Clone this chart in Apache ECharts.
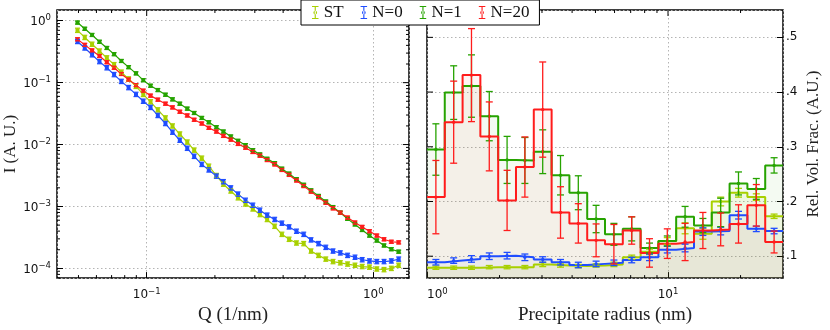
<!DOCTYPE html>
<html><head><meta charset="utf-8">
<script src="https://cdn.jsdelivr.net/npm/echarts@6/dist/echarts.min.js"></script>
<style>html,body{margin:0;padding:0;background:#fff}#c{width:830px;height:330px}</style>
</head><body><div id="c"></div>
<script>
// ---------- data ----------
const seriesNames = ['ST', 'N=0', 'N=1', 'N=20'];
const seriesColors = ['#a8d000', '#1f4dff', '#26a300', '#ff1c1c'];

// Left panel: scattering vector Q (1/nm)
const qValues = [0.0495,0.0533,0.0574,0.0619,0.0667,0.0718,0.0773,0.0832,0.0897,0.0966,
  0.104,0.112,0.121,0.130,0.140,0.151,0.162,0.175,0.188,0.203,0.218,0.235,0.253,0.273,0.294,
  0.316,0.340,0.367,0.395,0.425,0.458,0.493,0.531,0.573,0.617,0.664,0.715,0.770,0.830,0.893,
  0.962,1.036,1.115,1.201,1.294];
// log10 of intensity I (A.U.)
const log10IntensitySt = [-0.155,-0.27,-0.38,-0.49,-0.60,-0.71,-0.83,-0.94,-1.06,-1.19,
  -1.31,-1.44,-1.57,-1.70,-1.83,-1.96,-2.09,-2.22,-2.35,-2.50,-2.64,-2.75,-2.86,-2.96,-3.04,
  -3.13,-3.21,-3.32,-3.45,-3.53,-3.59,-3.60,-3.72,-3.79,-3.85,-3.89,-3.91,-3.93,-3.95,-3.97,
  -3.98,-4.01,-4.02,-4.00,-3.95];
const log10IntensityN0 = [-0.335,-0.44,-0.55,-0.66,-0.76,-0.87,-0.98,-1.08,-1.19,-1.30,
  -1.40,-1.53,-1.66,-1.80,-1.93,-2.06,-2.19,-2.32,-2.41,-2.51,-2.60,-2.70,-2.80,-2.90,-2.98,
  -3.06,-3.14,-3.21,-3.27,-3.33,-3.40,-3.45,-3.54,-3.60,-3.66,-3.72,-3.75,-3.79,-3.82,-3.86,
  -3.88,-3.89,-3.89,-3.88,-3.85];
const log10IntensityN1 = [-0.03,-0.13,-0.23,-0.34,-0.44,-0.54,-0.65,-0.75,-0.85,-0.96,
  -1.05,-1.12,-1.195,-1.27,-1.34,-1.42,-1.49,-1.57,-1.64,-1.72,-1.79,-1.87,-1.94,-2.01,-2.09,
  -2.16,-2.23,-2.30,-2.39,-2.47,-2.56,-2.65,-2.74,-2.83,-2.92,-3.01,-3.10,-3.20,-3.29,-3.38,
  -3.47,-3.55,-3.63,-3.69,-3.73];
const log10IntensityN20 = [-0.30,-0.39,-0.48,-0.57,-0.67,-0.76,-0.86,-0.95,-1.04,-1.13,
  -1.21,-1.275,-1.34,-1.40,-1.47,-1.53,-1.60,-1.66,-1.73,-1.79,-1.86,-1.92,-1.99,-2.05,-2.12,
  -2.18,-2.25,-2.32,-2.41,-2.49,-2.58,-2.67,-2.76,-2.85,-2.94,-3.03,-3.10,-3.18,-3.26,-3.33,
  -3.40,-3.47,-3.53,-3.57,-3.58];
// half error bar in log10 units, per series
const intensityLogErr = [0.035, 0.035, 0.025, 0.025];

// Right panel: precipitate radius bins (nm)
const radiusEdges = [1.000,1.185,1.405,1.665,1.974,2.340,2.774,3.289,3.898,4.621,5.477,
  6.493,7.697,9.124,10.81,12.82,15.19,18.01,21.35,25.31,30.0];
const volFracSt  = [0.079,0.079,0.079,0.080,0.080,0.080,0.085,0.083,0.082,0.083,
  0.085,0.098,0.108,0.128,0.151,0.141,0.200,0.216,0.208,0.173];
const volFracN0  = [0.089,0.092,0.095,0.100,0.101,0.098,0.094,0.089,0.084,0.086,
  0.088,0.093,0.098,0.112,0.115,0.145,0.146,0.175,0.150,0.146];
const volFracN1  = [0.295,0.399,0.411,0.356,0.276,0.275,0.291,0.248,0.216,0.168,
  0.140,0.150,0.115,0.128,0.172,0.156,0.180,0.233,0.223,0.266];
const volFracN20 = [0.208,0.345,0.431,0.319,0.202,0.263,0.368,0.180,0.160,0.129,
  0.122,0.147,0.106,0.123,0.126,0.147,0.149,0.159,0.193,0.126];
const volErrSt  = [0.003,0.003,0.003,0.003,0.003,0.003,0.004,0.003,0.003,0.003,
  0.004,0.004,0.005,0.006,0.010,0.010,0.008,0.008,0.006,0.004];
const volErrN0  = [0.005,0.005,0.006,0.006,0.006,0.006,0.005,0.005,0.005,0.005,
  0.005,0.005,0.006,0.006,0.007,0.007,0.007,0.007,0.005,0.005];
const volErrN1  = [0.047,0.049,0.057,0.045,0.043,0.042,0.040,0.036,0.031,0.025,
  0.020,0.022,0.009,0.009,0.019,0.013,0.026,0.021,0.019,0.014];
const volErrN20 = [0.067,0.075,0.085,0.063,0.055,0.055,0.087,0.047,0.036,0.030,
  0.036,0.025,0.026,0.027,0.034,0.033,0.030,0.035,0.038,0.020];

const minorMultipliers = [2,3,4,5,6,7,8,9];

// ---------- build ----------
const serif = '"Liberation Serif","Times New Roman",serif';
const sans = '"DejaVu Sans",sans-serif';
const leftLogs = [log10IntensitySt, log10IntensityN0, log10IntensityN1, log10IntensityN20];
const volumes = [volFracSt, volFracN0, volFracN1, volFracN20];
const volErrs = [volErrSt, volErrN0, volErrN1, volErrN20];
const binCenters = radiusEdges.slice(0, -1).map((e, i) => Math.sqrt(e * radiusEdges[i + 1]));

function rgba(hex, a) {
  const n = parseInt(hex.slice(1), 16);
  return 'rgba(' + ((n >> 16) & 255) + ',' + ((n >> 8) & 255) + ',' + (n & 255) + ',' + a + ')';
}
const areaAlpha = [0.10, 0.05, 0.07, 0.06];

const supRich = {
  b: {fontFamily: sans, fontSize: 12, color: '#111', lineHeight: 14, verticalAlign: 'bottom'},
  s: {fontFamily: sans, fontSize: 8.5, color: '#111', lineHeight: 8, verticalAlign: 'top'}
};
function sciLabel(v) {
  const l = Math.log10(v), e = Math.round(l);
  if (Math.abs(l - e) > 1e-6) return '';
  return '{b|10}{s|' + (e < 0 ? '\u2212' + (-e) : e) + '}';
}

const series = [];
// right panel error bars (first so legend uses them)
seriesNames.forEach((name, k) => {
  const c = seriesColors[k];
  series.push({
    name, type: 'custom', xAxisIndex: 1, yAxisIndex: 1, z: 5, silent: true,
    itemStyle: {color: c},
    data: volumes[k].map((v, i) => [binCenters[i], v, volErrs[k][i]]),
    renderItem: (params, api) => {
      const x = api.value(0), v = api.value(1), e = api.value(2);
      const t = api.coord([x, v + e]), b = api.coord([x, v - e]), m = api.coord([x, v]);
      const hw = 3.5, st = {stroke: c, lineWidth: 1.3};
      return {type: 'group', children: [
        {type: 'line', shape: {x1: t[0], y1: t[1], x2: b[0], y2: b[1]}, style: st},
        {type: 'line', shape: {x1: t[0] - hw, y1: t[1], x2: t[0] + hw, y2: t[1]}, style: st},
        {type: 'line', shape: {x1: b[0] - hw, y1: b[1], x2: b[0] + hw, y2: b[1]}, style: st},
        {type: 'circle', shape: {cx: m[0], cy: m[1], r: 1.7}, style: {fill: c}}
      ]};
    }
  });
});
// right panel step histograms
seriesNames.forEach((name, k) => {
  const c = seriesColors[k];
  const pts = volumes[k].map((v, i) => [radiusEdges[i], v]);
  pts.push([radiusEdges[radiusEdges.length - 1], volumes[k][volumes[k].length - 1]]);
  series.push({
    name, type: 'line', xAxisIndex: 1, yAxisIndex: 1, z: 3, step: 'end', symbol: 'none', silent: true,
    lineStyle: {color: c, width: 2}, itemStyle: {color: c},
    areaStyle: {color: rgba(c, areaAlpha[k]), origin: 'start'},
    data: pts
  });
});
// left panel lines
seriesNames.forEach((name, k) => {
  const c = seriesColors[k];
  series.push({
    name, type: 'line', xAxisIndex: 0, yAxisIndex: 0, z: 3, symbol: 'rect', symbolSize: 4, silent: true,
    lineStyle: {color: c, width: 1.2}, itemStyle: {color: c},
    data: qValues.map((q, i) => [q, Math.pow(10, leftLogs[k][i])])
  });
  series.push({
    name, type: 'custom', xAxisIndex: 0, yAxisIndex: 0, z: 4, silent: true,
    itemStyle: {color: c},
    data: qValues.map((q, i) => [q, Math.pow(10, leftLogs[k][i])]),
    renderItem: (params, api) => {
      const x = api.value(0), v = api.value(1), f = Math.pow(10, intensityLogErr[k]);
      const t = api.coord([x, v * f]), b = api.coord([x, v / f]);
      const hw = 2.5, st = {stroke: c, lineWidth: 1.2};
      return {type: 'group', children: [
        {type: 'line', shape: {x1: t[0], y1: t[1], x2: b[0], y2: b[1]}, style: st},
        {type: 'line', shape: {x1: t[0] - hw, y1: t[1], x2: t[0] + hw, y2: t[1]}, style: st},
        {type: 'line', shape: {x1: b[0] - hw, y1: b[1], x2: b[0] + hw, y2: b[1]}, style: st}
      ]};
    }
  });
});

// frame ticks (mirror + minor) drawn through the axes' scales
function tickSeries(gi, xRange, yRange, xLog, yLog, yMajors, refPt) {
  return {
    type: 'custom', xAxisIndex: gi, yAxisIndex: gi, z: 6, silent: true, clip: false,
    data: [refPt],
    renderItem: (params, api) => {
      const cs = params.coordSys, ch = [];
      const st = {stroke: '#000', lineWidth: 1};
      const L = cs.x, R = cs.x + cs.width, T = cs.y, B = cs.y + cs.height;
      const inR = (v, r) => v > r[0] * 1.0001 && v < r[1] * 0.9999;
      for (let d = -3; d <= 2; d++) {
        const base = Math.pow(10, d);
        [1].concat(minorMultipliers).forEach(m => {
          const v = m * base; if (!inR(v, xRange)) return;
          const px = api.coord([v, refPt[1]])[0];
          const len = m === 1 ? 6 : 3;
          if (m !== 1) ch.push({type: 'line', shape: {x1: px, y1: B, x2: px, y2: B - len}, style: st});
          ch.push({type: 'line', shape: {x1: px, y1: T, x2: px, y2: T + len}, style: st});
        });
      }
      if (yLog) {
        for (let d = -5; d <= 1; d++) {
          const base = Math.pow(10, d);
          [1].concat(minorMultipliers).forEach(m => {
            const v = m * base; if (!inR(v, yRange)) return;
            const py = api.coord([refPt[0], v])[1];
            const len = m === 1 ? 6 : 3;
            if (m !== 1) ch.push({type: 'line', shape: {x1: L, y1: py, x2: L + len, y2: py}, style: st});
            ch.push({type: 'line', shape: {x1: R, y1: py, x2: R - len, y2: py}, style: st});
          });
        }
      } else {
        yMajors.forEach(v => {
          const py = api.coord([refPt[0], v])[1];
          ch.push({type: 'line', shape: {x1: L, y1: py, x2: L + 6, y2: py}, style: st});
        });
      }
      return {type: 'group', children: ch};
    }
  };
}
const leftX = [0.0402, 1.437], leftY = [6.97e-5, 1.49];
const rightX = [1, 30], rightY = [0.06, 0.55];
const rightYTicks = [0.1, 0.2, 0.3, 0.4, 0.5];
series.push(tickSeries(0, leftX, leftY, true, true, null, [0.1, 0.01]));
series.push(tickSeries(1, rightX, rightY, true, false, rightYTicks, [3, 0.2]));

const axisTick = {show: true, inside: true, length: 6, lineStyle: {color: '#000', width: 1}};
const splitLine = {show: true, lineStyle: {type: [1.5, 2.5], color: '#b4b4b4', width: 1}};
const nameStyle = {fontFamily: serif, color: '#222'};

const option = {
  animation: false,
  backgroundColor: '#fff',
  grid: [
    {left: 57, top: 10, width: 352, height: 276, show: true, borderColor: '#000', borderWidth: 1.5, backgroundColor: 'transparent'},
    {left: 427, top: 10, width: 356, height: 277, show: true, borderColor: '#000', borderWidth: 1.5, backgroundColor: 'transparent'}
  ],
  xAxis: [
    {gridIndex: 0, type: 'log', min: leftX[0], max: leftX[1], axisLine: {show: false}, axisTick, splitLine,
     axisLabel: {formatter: sciLabel, rich: supRich, margin: 9, showMinLabel: false, showMaxLabel: false},
     name: 'Q (1/nm)', nameLocation: 'middle', nameGap: 21, nameTextStyle: Object.assign({fontSize: 19}, nameStyle)},
    {gridIndex: 1, type: 'log', min: rightX[0], max: rightX[1], axisLine: {show: false}, axisTick, splitLine,
     axisLabel: {formatter: sciLabel, rich: supRich, margin: 9, showMinLabel: true, showMaxLabel: false, alignMinLabel: 'left'},
     name: 'Precipitate radius (nm)', nameLocation: 'middle', nameGap: 21, nameTextStyle: Object.assign({fontSize: 19}, nameStyle)}
  ],
  yAxis: [
    {gridIndex: 0, type: 'log', min: leftY[0], max: leftY[1], position: 'left', axisLine: {show: false}, axisTick, splitLine,
     axisLabel: {formatter: sciLabel, rich: supRich, margin: 6, showMinLabel: false, showMaxLabel: false},
     name: 'I (A. U.)', nameLocation: 'middle', nameRotate: 90, nameGap: 36, nameTextStyle: Object.assign({fontSize: 17}, nameStyle)},
    {gridIndex: 1, type: 'value', min: rightY[0], max: rightY[1], position: 'right', axisLine: {show: false}, axisTick, splitLine,
     axisLabel: {fontFamily: sans, fontSize: 12, color: '#111', margin: 3, showMinLabel: false, showMaxLabel: false,
       formatter: v => { const t = Math.round(v * 10); return Math.abs(v * 10 - t) < 1e-6 ? '.' + t : ''; }},
     name: 'Rel. Vol. Frac. (A.U.)', nameLocation: 'middle', nameRotate: 90, nameGap: 22, nameTextStyle: Object.assign({fontSize: 17}, nameStyle)}
  ],
  legend: {
    data: seriesNames.map(n => ({name: n, icon: 'path://M0 0h7v1.2h-7z M2.9 0h1.2v14h-1.2z M0 12.8h7v1.2h-7z M1.5 7a2 2 0 1 0 4 0a2 2 0 1 0 -4 0z'})),
    left: 301, top: 0, itemWidth: 7, itemHeight: 13, itemGap: 17, selectedMode: false,
    padding: [4, 10, 4, 11], backgroundColor: '#fff', borderColor: '#000', borderWidth: 1, z: 10,
    textStyle: {fontFamily: serif, fontSize: 17, color: '#111'}
  },
  series
};
const chart = echarts.init(document.getElementById('c'), null, {renderer: 'canvas', width: 830, height: 330});
chart.setOption(option);
</script>
</body></html>
